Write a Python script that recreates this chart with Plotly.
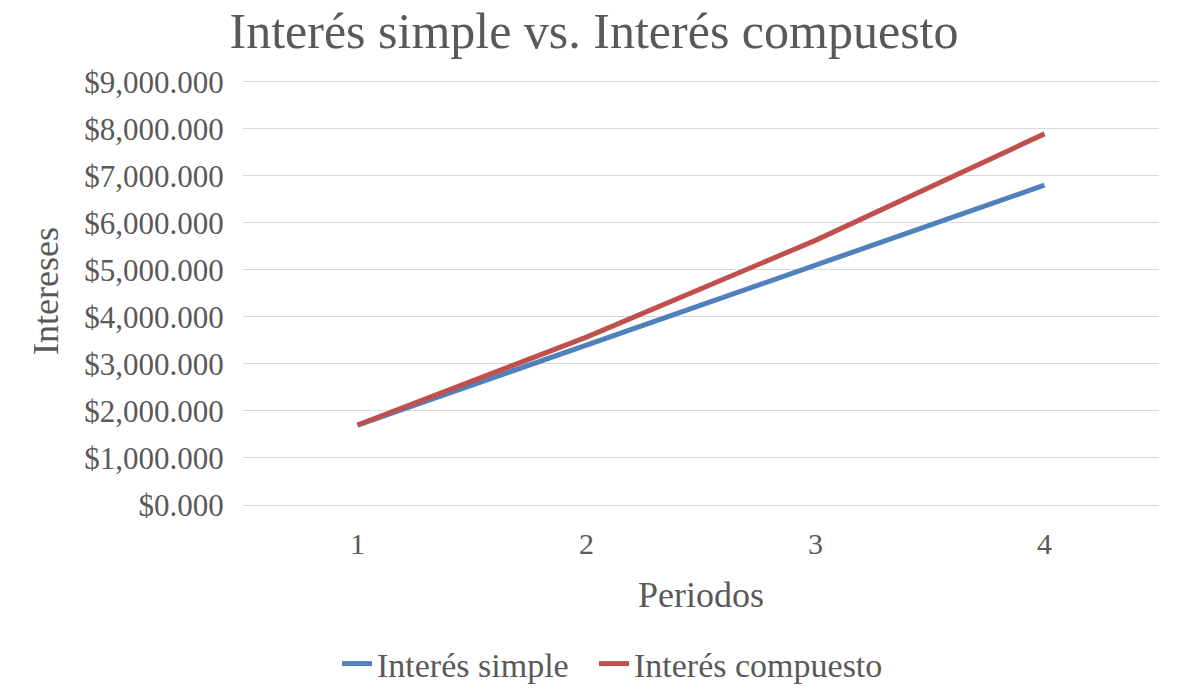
import plotly.graph_objects as go

periodos = ["1", "2", "3", "4"]
interes_simple = [1700, 3400, 5100, 6800]
interes_compuesto = [1700, 3570, 5627, 7891]

FONT = "Liberation Serif"
GRAY = "#595959"

fig = go.Figure()
fig.add_trace(go.Scatter(x=periodos, y=interes_simple, mode="lines", name="Interés simple",
                         line=dict(color="#4F81BD", width=5), legend="legend"))
fig.add_trace(go.Scatter(x=periodos, y=interes_compuesto, mode="lines", name="Interés compuesto",
                         line=dict(color="#C0504D", width=5), legend="legend2"))

leg_common = dict(orientation="h", xanchor="left", yref="container", y=1 - 664 / 690,
                  yanchor="middle", font=dict(family=FONT, size=34, color=GRAY), itemwidth=30,
                  bgcolor="rgba(0,0,0,0)")

fig.update_layout(
    width=1188, height=690,
    paper_bgcolor="white", plot_bgcolor="white",
    margin=dict(l=243, r=29, t=77, b=185),
    font=dict(family=FONT, color=GRAY, size=28),
    title=dict(text="Interés simple vs. Interés compuesto", x=0.5, xanchor="center",
               y=1 - 30 / 690, yanchor="middle", font=dict(family=FONT, size=50, color=GRAY)),
    showlegend=True,
    legend=dict(x=(337 - 243) / 916, **leg_common),
    legend2=dict(x=(594 - 243) / 916, **leg_common),
)
fig.update_xaxes(type="category", range=[-0.5, 3.5], showgrid=False, zeroline=False,
                 showline=False, automargin=False,
                 ticks="outside", ticklen=12, tickcolor="rgba(0,0,0,0)",
                 tickfont=dict(family=FONT, size=30, color=GRAY),
                 title=dict(text="Periodos", standoff=22, font=dict(family=FONT, size=36, color=GRAY)))
fig.update_yaxes(range=[0, 9100], dtick=1000, tickprefix="$", tickformat=",.3f",
                 showgrid=True, gridcolor="#D9D9D9", gridwidth=1, zeroline=True,
                 zerolinecolor="#D9D9D9", zerolinewidth=1, showline=False, automargin=False,
                 ticks="outside", ticklen=12, tickcolor="rgba(0,0,0,0)",
                 tickfont=dict(family=FONT, size=31, color=GRAY),
                 title=dict(text="Intereses", standoff=14, font=dict(family=FONT, size=36, color=GRAY)))

fig.write_html("out.html", config={"displayModeBar": False},
               post_script="document.body.style.margin='0';document.body.style.overflow='hidden';")
